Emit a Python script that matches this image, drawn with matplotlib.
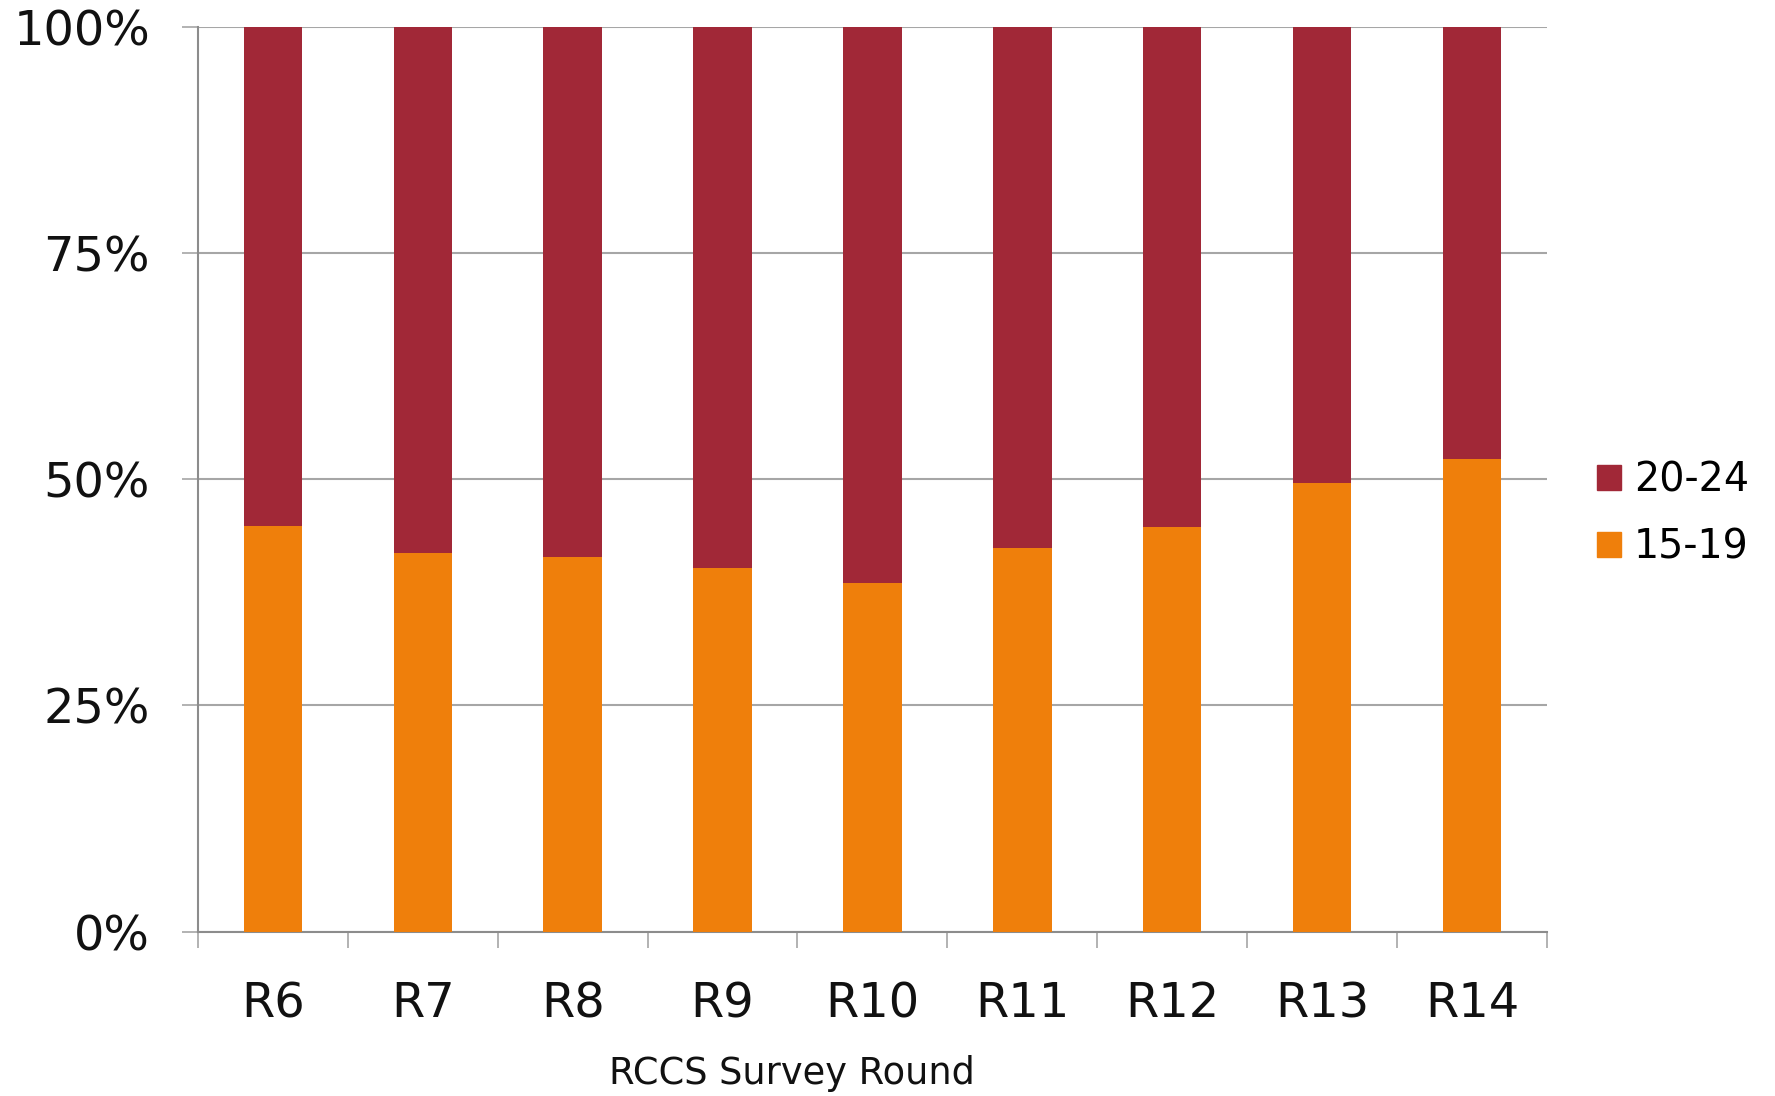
import matplotlib.pyplot as plt
import numpy as np
from matplotlib.patches import Patch
from matplotlib.ticker import FixedLocator, PercentFormatter

rounds = ["R6", "R7", "R8", "R9", "R10", "R11", "R12", "R13", "R14"]
share_15_19 = [44.8, 41.8, 41.4, 40.2, 38.5, 42.4, 44.7, 49.6, 52.2]
share_20_24 = [100 - v for v in share_15_19]

ORANGE = "#EF7F0B"
DARK_RED = "#A12837"
GRID_GREY = "#A6A6A6"

plt.rcParams["font.family"] = "DejaVu Sans"

fig = plt.figure(figsize=(17.75, 10.96), dpi=100)
ax = fig.add_axes([0.1115, 0.150, 0.76, 0.8256])

x = np.arange(len(rounds))
width = 0.39
ax.bar(x, share_15_19, width, color=ORANGE, zorder=3)
ax.bar(x, share_20_24, width, bottom=share_15_19, color=DARK_RED, zorder=3)

ax.set_xlim(-0.5, len(rounds) - 0.5)
ax.set_ylim(0, 100)

ax.set_yticks([0, 25, 50, 75, 100])
ax.yaxis.set_major_formatter(PercentFormatter(decimals=0))
ax.grid(axis="y", color=GRID_GREY, linewidth=1.5, zorder=0)
ax.tick_params(axis="y", length=11.5, width=1.2, color=GRID_GREY, pad=23,
               labelsize=34.5, labelcolor="#111111")

# category labels at centres, tick marks on the boundaries
ax.set_xticks(x)
ax.set_xticklabels(rounds)
ax.tick_params(axis="x", which="major", length=0, pad=35, labelsize=34.5,
               labelcolor="#111111")
ax.xaxis.set_minor_locator(FixedLocator(np.arange(-0.5, len(rounds), 1.0)))
ax.tick_params(axis="x", which="minor", length=11.5, width=1.2, color=GRID_GREY)

for side in ("top", "right"):
    ax.spines[side].set_visible(False)
for side in ("left", "bottom"):
    ax.spines[side].set_color("#8C8C8C")
    ax.spines[side].set_linewidth(1.5)

fig.text(792 / 1775, 1 - 1073 / 1096, "RCCS Survey Round", ha="center",
         va="center", fontsize=26.5, color="#111111")

handles = [Patch(color=DARK_RED, label="20-24"), Patch(color=ORANGE, label="15-19")]
fig.legend(handles=handles, loc="center left",
           bbox_to_anchor=(1581 / 1775, 1 - 514 / 1096), frameon=False,
           fontsize=28.5, handlelength=0.62, handleheight=0.62,
           handletextpad=0.32, labelspacing=0.68, borderaxespad=0)

fig.savefig("out.png", dpi=100)
